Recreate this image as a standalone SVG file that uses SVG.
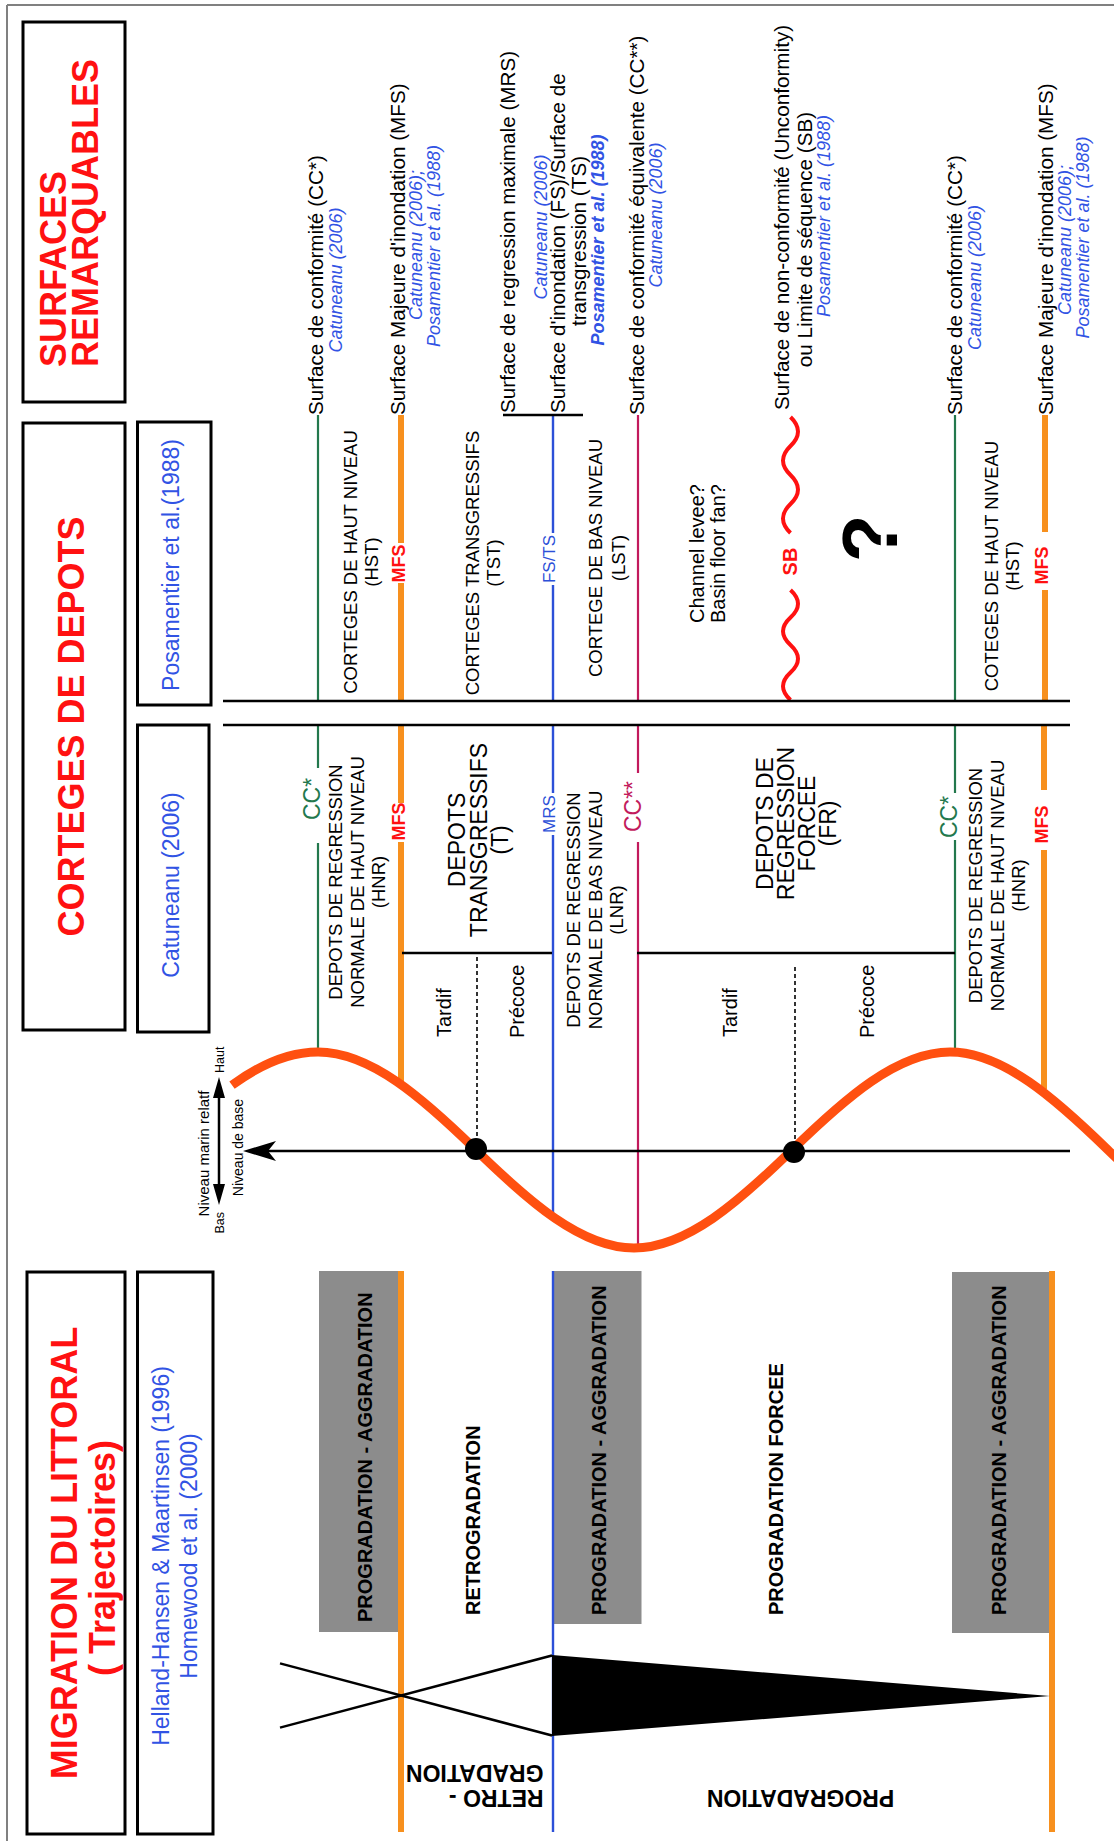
<svg xmlns="http://www.w3.org/2000/svg" width="1114" height="1841" viewBox="0 0 1114 1841">
<style>
text{font-family:"Liberation Sans",Arial,sans-serif;fill:#000}
.hdr{font-size:36px;font-weight:bold;fill:#ff1111}
.ref{font-size:23px;fill:#3153e4}
.box{fill:none;stroke:#000;stroke-width:3}
.lab{font-size:18.5px}
.big{font-size:23px}
.t20{font-size:20px}
.surf{font-size:20.7px}
.cit{font-size:18px;fill:#3153e4;font-style:italic}
.citb{font-size:18px;fill:#3153e4;font-style:italic;font-weight:bold}
.mig{font-size:20px;font-weight:bold}
.flip{font-size:23px;font-weight:bold}
.mfs{font-size:18px;font-weight:bold;fill:#ff1111}
.sb{font-size:20px;font-weight:bold;fill:#ff1111}
.cgreen{font-size:23px;fill:#23784d}
.cmag{font-size:23px;fill:#c21a5c}
.cblue{font-size:17px;fill:#2c50d8}
.g{stroke:#23784d;stroke-width:2.2;fill:none}
.o{stroke:#f7901e;stroke-width:6;fill:none}
.b{stroke:#2c50d8;stroke-width:2.4;fill:none}
.m{stroke:#c21a5c;stroke-width:2.2;fill:none}
.k{stroke:#000;stroke-width:2.5;fill:none}
.gray{fill:#8c8c8c}
</style>

<g id="frame" stroke="#808080" stroke-width="2">
<line x1="7" y1="5" x2="1114" y2="5"/>
<line x1="7" y1="5" x2="7" y2="1841"/>
</g>

<g transform="matrix(0 -1 1 0 0 1841)">

<g id="hdr-surfaces">
<rect class="box" x="1439" y="23" width="380" height="102"/>
<text class="hdr" x="1474" y="66">SURFACES</text>
<text class="hdr" x="1474" y="98">REMARQUABLES</text>
</g>
<g id="hdr-corteges">
<rect class="box" x="811" y="23" width="607" height="102"/>
<text class="hdr" x="1114.5" y="84" text-anchor="middle">CORTEGES DE DEPOTS</text>
</g>
<g id="hdr-migration">
<rect class="box" x="7" y="27" width="562" height="98"/>
<text class="hdr" x="288" y="77" text-anchor="middle">MIGRATION DU LITTORAL</text>
<text class="hdr" x="283" y="115" text-anchor="middle">( Trajectoires)</text>
</g>
<g id="hdr-posamentier">
<rect class="box" x="1136" y="137.5" width="283" height="73.5"/>
<text class="ref" x="1276" y="179" text-anchor="middle">Posamentier et al.(1988)</text>
</g>
<g id="hdr-catuneanu">
<rect class="box" x="809" y="137.5" width="307" height="71.5"/>
<text class="ref" x="956" y="179" text-anchor="middle">Catuneanu (2006)</text>
</g>
<g id="hdr-helland">
<rect class="box" x="7" y="137.5" width="562" height="75.5"/>
<text class="ref" x="285" y="169" text-anchor="middle">Helland-Hansen &amp; Maartinsen (1996)</text>
<text class="ref" x="285" y="197" text-anchor="middle">Homewood et al. (2000)</text>
</g>

<g id="migration-fills">
<rect class="gray" x="209" y="319" width="361" height="81"/>
<rect class="gray" x="217" y="553" width="353" height="88.5"/>
<rect class="gray" x="208" y="952" width="361" height="98"/>
</g>

<g id="connectors">
<line class="g" x1="1140" y1="318" x2="1426" y2="318"/>
<line class="g" x1="789" y1="318" x2="998" y2="318"/>
<line class="g" x1="1073" y1="318" x2="1116" y2="318"/>
<line class="g" x1="1140" y1="955" x2="1426" y2="955"/>
<line class="g" x1="789" y1="955" x2="1001" y2="955"/>
<line class="g" x1="1048" y1="955" x2="1116" y2="955"/>
<line class="o" x1="1140" y1="401" x2="1258" y2="401"/>
<line class="o" x1="1298" y1="401" x2="1426" y2="401"/>
<line class="o" x1="757" y1="401" x2="999" y2="401"/>
<line class="o" x1="1038" y1="401" x2="1116" y2="401"/>
<line class="o" x1="9" y1="401" x2="570" y2="401"/>
<line class="o" x1="1140" y1="1045" x2="1251" y2="1045"/>
<line class="o" x1="1309" y1="1045" x2="1426" y2="1045"/>
<line class="o" x1="752" y1="1044" x2="991" y2="1044"/>
<line class="o" x1="1051" y1="1044" x2="1116" y2="1044"/>
<line class="o" x1="9" y1="1052" x2="570" y2="1052"/>
<line class="b" x1="1140" y1="553" x2="1256" y2="553"/>
<line class="b" x1="1308" y1="553" x2="1426" y2="553"/>
<line class="b" x1="623" y1="553" x2="1006" y2="553"/>
<line class="b" x1="1048" y1="553" x2="1116" y2="553"/>
<line class="b" x1="9" y1="553" x2="570" y2="553"/>
<line class="m" x1="1140" y1="638" x2="1426" y2="638"/>
<line class="m" x1="593" y1="638" x2="999" y2="638"/>
<line class="m" x1="1068" y1="638" x2="1116" y2="638"/>
<path stroke="#ff1111" stroke-width="4" fill="none" d="M1141,790.5 q13.75,-15 27.5,0 t27.5,0 t27.5,0 t27.5,0"/>
<path stroke="#ff1111" stroke-width="4" fill="none" d="M1308,790.5 q14.5,-15 29,0 t29,0 t29,0 t29,0"/>
<line class="k" x1="1140" y1="223" x2="1140" y2="1070"/>
<line class="k" x1="1116" y1="223" x2="1116" y2="1070"/>
<line class="k" x1="888" y1="402" x2="888" y2="552"/>
<line class="k" x1="888" y1="637" x2="888" y2="955"/>
<line class="k" x1="1426" y1="503" x2="1426" y2="583"/>
<line stroke="#000" stroke-width="1.6" stroke-dasharray="4,3" x1="884" y1="477" x2="692" y2="477"/>
<line stroke="#000" stroke-width="1.6" stroke-dasharray="4,3" x1="874" y1="795" x2="689" y2="795"/>
<line class="k" x1="690" y1="1070" x2="690" y2="266"/>
<path d="M690,243 L680,276 L690,268 L700,276 Z" fill="#000"/>
<line stroke="#000" stroke-width="2.5" x1="650" y1="219" x2="750" y2="219"/>
<path d="M636,219 L657,213 L657,225 Z M764,219 L743,213 L743,225 Z" fill="#000"/>
<path fill="none" stroke="#ff5010" stroke-width="9" d="M755.8,232 C776.9,260.7 789,289.3 789,318 C789,370.67 742.3,423.33 691,476 C639.7,528.67 593,581.33 593,634 C593,686.67 639.7,739.33 691,792 C742.3,844.67 789,897.33 789,950 C789,1002.67 742.3,1055.33 691,1108 C639.7,1160.67 593,1213.33 593,1266"/>
<circle cx="692" cy="476" r="11" fill="#000"/>
<circle cx="689" cy="794" r="11" fill="#000"/>
<line class="k" x1="177.6" y1="280" x2="105.5" y2="552"/>
<line class="k" x1="113.4" y1="280" x2="185.5" y2="552"/>
<path d="M186,552 L105,552 L145,1050 Z" fill="#000"/>
</g>

<g id="surf-cc1">
<text class="surf" x="1426" y="322.5">Surface de conformité (CC*)</text>
<text class="cit" x="1561" y="341.5" text-anchor="middle">Catuneanu (2006)</text>
</g>
<g id="surf-mfs1">
<text class="surf" x="1426" y="404.6">Surface Majeure d'inondation (MFS)</text>
<text class="cit" x="1596" y="422" text-anchor="middle">Catuneanu (2006);</text>
<text class="cit" x="1595" y="440" text-anchor="middle">Posamentier et al. (1988)</text>
</g>
<g id="surf-mrs">
<text class="surf" x="1428" y="515">Surface de regression maximale (MRS)</text>
<text class="cit" x="1614" y="547" text-anchor="middle">Catuneanu (2006)</text>
</g>
<g id="surf-fs">
<text class="surf" x="1428" y="565">Surface d'inondation (FS)/Surface de</text>
<text class="surf" x="1600" y="586" text-anchor="middle">transgression (TS)</text>
<text class="citb" x="1601" y="604" text-anchor="middle">Posamentier et al. (1988)</text>
</g>
<g id="surf-cc2">
<text class="surf" x="1426" y="644">Surface de conformité équivalente (CC**)</text>
<text class="cit" x="1626" y="662" text-anchor="middle">Catuneanu (2006)</text>
</g>
<g id="surf-sb">
<text class="surf" x="1431" y="789">Surface de non-conformité (Unconformity)</text>
<text class="surf" x="1601.5" y="812" text-anchor="middle">ou Limite de séquence (SB)</text>
<text class="cit" x="1625" y="830" text-anchor="middle">Posamentier et al. (1988)</text>
</g>
<g id="surf-cc3">
<text class="surf" x="1426" y="962">Surface de conformité (CC*)</text>
<text class="cit" x="1563.5" y="981" text-anchor="middle">Catuneanu (2006)</text>
</g>
<g id="surf-mfs2">
<text class="surf" x="1426" y="1053">Surface Majeure d'inondation (MFS)</text>
<text class="cit" x="1601" y="1071" text-anchor="middle">Catuneanu (2006);</text>
<text class="cit" x="1603.5" y="1089" text-anchor="middle">Posamentier et al. (1988)</text>
</g>

<g id="pos-hst">
<text class="lab" x="1279" y="357" text-anchor="middle">CORTEGES DE HAUT NIVEAU</text>
<text class="lab" x="1279" y="378" text-anchor="middle">(HST)</text>
</g>
<g id="pos-tst">
<text class="lab" x="1278" y="478.6" text-anchor="middle">CORTEGES TRANSGRESSIFS</text>
<text class="lab" x="1278" y="500" text-anchor="middle">(TST)</text>
</g>
<g id="pos-lst">
<text class="lab" x="1283" y="601.5" text-anchor="middle">CORTEGE DE BAS NIVEAU</text>
<text class="lab" x="1283" y="625" text-anchor="middle">(LST)</text>
</g>
<g id="pos-channel">
<text class="t20" x="1218" y="704">Channel levee?</text>
<text class="t20" x="1218" y="725">Basin floor fan?</text>
</g>
<g id="pos-question">
<text x="1302.5" y="897" text-anchor="middle" style="font-size:78px;font-weight:bold">?</text>
</g>
<g id="pos-hst2">
<text class="lab" x="1275" y="998" text-anchor="middle">COTEGES DE HAUT NIVEAU</text>
<text class="lab" x="1275" y="1019" text-anchor="middle">(HST)</text>
</g>

<g id="cat-hnr1">
<text class="lab" x="959" y="342" text-anchor="middle">DEPOTS DE REGRESSION</text>
<text class="lab" x="959" y="363.5" text-anchor="middle">NORMALE DE HAUT NIVEAU</text>
<text class="lab" x="959" y="385" text-anchor="middle">(HNR)</text>
</g>
<g id="cat-t">
<text class="big" x="1001" y="464.5" text-anchor="middle">DEPOTS</text>
<text class="big" x="1001" y="486.5" text-anchor="middle">TRANSGRESSIFS</text>
<text class="big" x="1001" y="507.5" text-anchor="middle">(T)</text>
<text class="t20" x="804" y="451">Tardif</text>
<text class="t20" x="803" y="523.5">Précoce</text>
</g>
<g id="cat-lnr">
<text class="lab" x="931" y="580" text-anchor="middle">DEPOTS DE REGRESSION</text>
<text class="lab" x="931" y="601.5" text-anchor="middle">NORMALE DE BAS NIVEAU</text>
<text class="lab" x="931" y="623" text-anchor="middle">(LNR)</text>
</g>
<g id="cat-fr">
<text class="big" x="1017.5" y="772.5" text-anchor="middle">DEPOTS DE</text>
<text class="big" x="1017.5" y="793.5" text-anchor="middle">REGRESSION</text>
<text class="big" x="1017.5" y="815" text-anchor="middle">FORCEE</text>
<text class="big" x="1017.5" y="836" text-anchor="middle">(FR)</text>
<text class="t20" x="804" y="737">Tardif</text>
<text class="t20" x="803" y="873.5">Précoce</text>
</g>
<g id="cat-hnr2">
<text class="lab" x="955.5" y="981.5" text-anchor="middle">DEPOTS DE REGRESSION</text>
<text class="lab" x="955.5" y="1003.5" text-anchor="middle">NORMALE DE HAUT NIVEAU</text>
<text class="lab" x="955.5" y="1024.5" text-anchor="middle">(HNR)</text>
</g>

<g id="line-labels">
<text class="cgreen" x="1042" y="320" text-anchor="middle">CC*</text>
<text class="mfs" x="1019.5" y="405" text-anchor="middle">MFS</text>
<text class="mfs" x="1277.5" y="405" text-anchor="middle">MFS</text>
<text class="cblue" x="1027" y="555" text-anchor="middle">MRS</text>
<text class="cblue" x="1282" y="555" text-anchor="middle">FS/TS</text>
<text class="cmag" x="1034.5" y="641" text-anchor="middle">CC**</text>
<text class="sb" x="1279.5" y="797" text-anchor="middle">SB</text>
<text class="cgreen" x="1024" y="957" text-anchor="middle">CC*</text>
<text class="mfs" x="1016.5" y="1048" text-anchor="middle">MFS</text>
<text class="mfs" x="1275.5" y="1048" text-anchor="middle">MFS</text>
</g>

<g id="sea-level-legend">
<text x="687.5" y="209" text-anchor="middle" style="font-size:15px">Niveau marin relatf</text>
<text x="693.5" y="242.5" text-anchor="middle" style="font-size:14px">Niveau de base</text>
<text x="768" y="224" style="font-size:12.5px">Haut</text>
<text x="629" y="224" text-anchor="end" style="font-size:12.5px">Bas</text>
</g>

<g id="mig-labels">
<text class="mig" x="219" y="372">PROGRADATION - AGGRADATION</text>
<text class="mig" x="226" y="480">RETROGRADATION</text>
<text class="mig" x="226" y="606">PROGRADATION - AGGRADATION</text>
<text class="mig" x="226" y="782.5">PROGRADATION FORCEE</text>
<text class="mig" x="226" y="1006">PROGRADATION - AGGRADATION</text>
</g>
</g>

<g id="traj-labels">
<text class="flip" x="800.5" y="1806.75" text-anchor="middle" transform="rotate(180 800.5 1798.5)">PROGRADATION</text>
<g transform="rotate(180 476 1786.5)">
<text class="flip" x="408.5" y="1783">RETRO -</text>
<text class="flip" x="408.5" y="1808">GRADATION</text>
</g>
</g>
</svg>
